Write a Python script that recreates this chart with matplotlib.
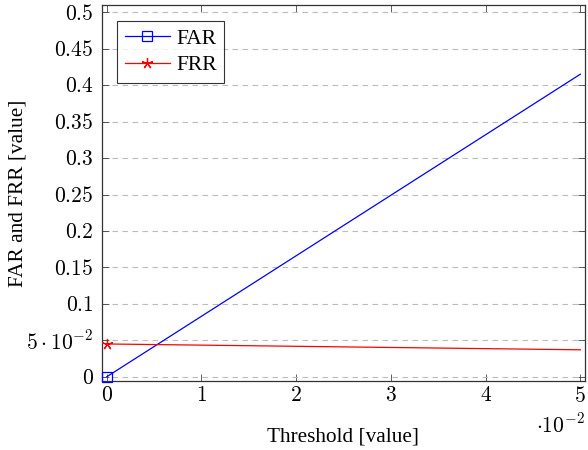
import matplotlib
matplotlib.use("Agg")
import matplotlib.pyplot as plt

plt.rcParams['mathtext.fontset'] = 'cm'
plt.rcParams['font.family'] = 'Liberation Serif'

threshold = [0.0, 0.05]
far = [0.0, 0.415]
frr = [0.045, 0.037]

yticks = [0, 0.05, 0.1, 0.15, 0.2, 0.25, 0.3, 0.35, 0.4, 0.45, 0.5]
ytick_labels = ['$0$', r'$5\cdot10^{-2}$', '$0.1$', '$0.15$', '$0.2$', '$0.25$',
                '$0.3$', '$0.35$', '$0.4$', '$0.45$', '$0.5$']
xticks = [0, 0.01, 0.02, 0.03, 0.04, 0.05]
xtick_labels = ['$0$', '$1$', '$2$', '$3$', '$4$', '$5$']

fig = plt.figure(figsize=(5.88, 4.5), dpi=100)
ax = fig.add_axes([0.1735, 0.153, 0.8215, 0.836])

ax.plot(threshold, far, color='blue', lw=0.9, marker='s', markersize=7.5,
        markerfacecolor='none', markeredgewidth=0.9, markevery=[0],
        clip_on=False, zorder=3, label='FAR')
ax.plot(threshold, frr, color='red', lw=0.9, marker=(5, 2, 0), markersize=8,
        markeredgewidth=0.9, markevery=[0], clip_on=False, zorder=3, label='FRR')

ax.set_xlim(-0.0005, 0.0505)
ax.set_ylim(-0.006, 0.51)
ax.set_yticks(yticks)
ax.set_yticklabels(ytick_labels, fontsize=15.5)
ax.set_xticks(xticks)
ax.set_xticklabels(xtick_labels, fontsize=15.5)
ax.tick_params(axis='y', pad=6)
ax.tick_params(axis='x', pad=4)
ax.tick_params(direction='in', top=True, right=True, length=5, width=0.6, color='#444444')
ax.yaxis.grid(True, color='#bbbbbb', linestyle=(0, (5, 4)), lw=0.8)
ax.set_axisbelow(True)
for s in ax.spines.values():
    s.set_linewidth(0.9)
    s.set_color('#333333')

fig.text(0.584, 0.029, 'Threshold [value]', fontsize=15.3, ha='center', va='center')
fig.text(0.031, 0.571, 'FAR and FRR [value]', fontsize=15.3, ha='center',
         va='center', rotation=90)
ax.text(1.0, -0.118, r'$\cdot10^{-2}$', transform=ax.transAxes, ha='right',
        va='center', fontsize=15.5)

leg = ax.legend(loc='upper left', fontsize=15.5, frameon=True, fancybox=False,
                edgecolor='black', handlelength=2.1, handletextpad=0.3,
                borderpad=0.35, labelspacing=0.3, borderaxespad=0,
                bbox_to_anchor=(0.031, 0.957))
leg.get_frame().set_linewidth(0.8)

fig.savefig('out.png', dpi=100)
